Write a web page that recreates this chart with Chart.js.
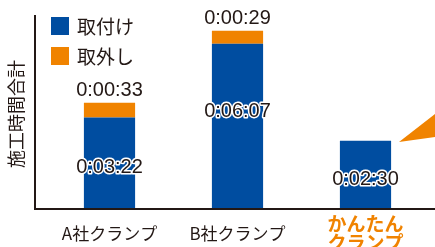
<!DOCTYPE html>
<html><head><meta charset="utf-8">
<script src="https://cdn.jsdelivr.net/npm/chart.js@4/dist/chart.umd.min.js"></script>
<style>html,body{margin:0;padding:0;background:#fff;overflow:hidden}#wrap{width:435px;height:247px;position:relative}</style>
</head><body><div id="wrap"><canvas id="c"></canvas></div>
<script>
// ---- data ----
const categories = ['A社クランプ', 'B社クランプ', ['かんたん', 'クランプ']];
const installSeconds = [202, 367, 150];   // 0:03:22, 0:06:07, 0:02:30
const removeSeconds = [33, 29, 0];        // 0:00:33, 0:00:29, -
const seriesNames = ['取付け', '取外し'];
const axisTitle = '施工時間合計';
const highlightIndex = 2;

// ---- style ----
const BLUE = '#004DA0', ORANGE = '#F08300', INK = '#231815';
const JP = '"Noto Sans CJK JP", "Noto Sans", sans-serif';
const NUM = '"Liberation Sans", Arial, sans-serif';
const innerLabelShift = [5, -14, 5];

function fmt(s) {
  const h = Math.floor(s / 3600), m = Math.floor((s % 3600) / 60), x = s % 60;
  return h + ':' + String(m).padStart(2, '0') + ':' + String(x).padStart(2, '0');
}

const decor = {
  id: 'decor',
  afterDatasetsDraw(chart) {
    const { ctx, chartArea: a, scales: { y } } = chart;
    ctx.save();
    // axis lines
    ctx.strokeStyle = INK; ctx.lineWidth = 2;
    ctx.beginPath();
    ctx.moveTo(a.left - 10.5, 15); ctx.lineTo(a.left - 10.5, a.bottom + 2);
    ctx.moveTo(a.left - 11.5, a.bottom + 1); ctx.lineTo(chart.width, a.bottom + 1);
    ctx.stroke();

    // decorative pointer
    ctx.fillStyle = ORANGE;
    ctx.beginPath(); ctx.moveTo(399, 142); ctx.lineTo(435, 114); ctx.lineTo(435, 137); ctx.closePath(); ctx.fill();

    // value labels
    ctx.textAlign = 'center'; ctx.textBaseline = 'middle';
    ctx.font = '20px ' + NUM;
    const meta0 = chart.getDatasetMeta(0);
    installSeconds.forEach((v, i) => {
      const bx = meta0.data[i].x;
      const cy = (y.getPixelForValue(0) + y.getPixelForValue(v)) / 2 + innerLabelShift[i];
      const t = fmt(v);
      ctx.lineJoin = 'round'; ctx.lineWidth = 3; ctx.strokeStyle = '#fff';
      ctx.strokeText(t, bx, cy);
      ctx.fillStyle = INK; ctx.fillText(t, bx, cy);
      if (removeSeconds[i] > 0) {
        const ty = y.getPixelForValue(v + removeSeconds[i]) - 12.5;
        ctx.fillText(fmt(removeSeconds[i]), bx, ty);
      }
    });

    // legend
    const ds = chart.data.datasets;
    ctx.textAlign = 'left';
    ctx.font = '19px ' + JP;
    ds.forEach((d, i) => {
      const top = 17 + i * 30;
      ctx.fillStyle = d.backgroundColor;
      ctx.fillRect(51, top, 18, 18);
      ctx.fillStyle = INK;
      ctx.fillText(d.label, 77, top + 9.5);
    });

    // y title
    ctx.translate(16, 114);
    ctx.rotate(-Math.PI / 2);
    ctx.textAlign = 'center';
    ctx.font = '18px ' + JP;
    ctx.fillStyle = INK;
    ctx.fillText(axisTitle, 0, 0);
    ctx.restore();
  }
};

new Chart(document.getElementById('c'), {
  type: 'bar',
  data: {
    labels: categories,
    datasets: [
      { label: seriesNames[0], data: installSeconds, backgroundColor: BLUE },
      { label: seriesNames[1], data: removeSeconds, backgroundColor: ORANGE }
    ]
  },
  options: {
    responsive: true, maintainAspectRatio: false, animation: false,
    layout: { padding: { left: 45.5, right: 5.5, top: 11, bottom: 0 } },
    datasets: { bar: { categoryPercentage: 1, barPercentage: 0.4, borderWidth: 0 } },
    plugins: { legend: { display: false }, tooltip: { enabled: false } },
    scales: {
      x: {
        stacked: true,
        grid: { display: false }, border: { display: false },
        afterFit: s => { s.height = 39; },
        ticks: {
          padding: 8, crossAlign: 'center', maxRotation: 0, autoSkip: false,
          color: c => c.index === highlightIndex ? ORANGE : INK,
          font: c => c.index === highlightIndex
            ? { family: JP, size: 19, weight: 'bold', lineHeight: '19px' }
            : { family: JP, size: 17, lineHeight: '19px' }
        }
      },
      y: { stacked: true, display: false, min: 0, max: 440 }
    }
  },
  plugins: [decor]
});
</script></body></html>
